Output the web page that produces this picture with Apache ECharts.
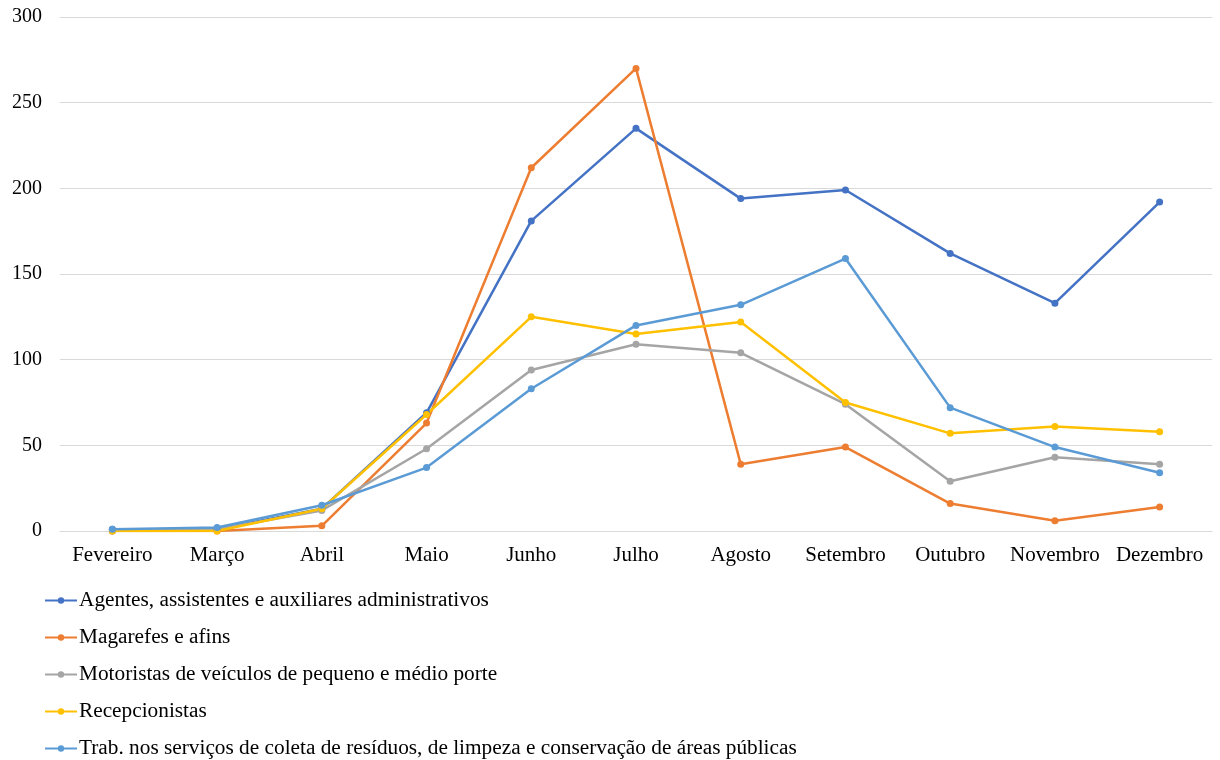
<!DOCTYPE html>
<html>
<head>
<meta charset="utf-8">
<script src="https://cdn.jsdelivr.net/npm/echarts@6/dist/echarts.min.js"></script>
<style>
  html, body { margin: 0; padding: 0; background: #fff; }
  #chart { width: 1220px; height: 760px; }
</style>
</head>
<body>
<div id="chart"></div>
<script>
var meses = ['Fevereiro', 'Março', 'Abril', 'Maio', 'Junho', 'Julho', 'Agosto', 'Setembro', 'Outubro', 'Novembro', 'Dezembro'];

var agentes = [1, 1, 13, 69, 181, 235, 194, 199, 162, 133, 192];
var magarefes = [0, 0, 3, 63, 212, 270, 39, 49, 16, 6, 14];
var motoristas = [0, 1, 12, 48, 94, 109, 104, 74, 29, 43, 39];
var recepcionistas = [0, 0, 13, 68, 125, 115, 122, 75, 57, 61, 58];
var trabColeta = [1, 2, 15, 37, 83, 120, 132, 159, 72, 49, 34];

var nomes = [
    'Agentes, assistentes e auxiliares administrativos',
    'Magarefes e afins',
    'Motoristas de veículos de pequeno e médio porte',
    'Recepcionistas',
    'Trab. nos serviços de coleta de resíduos, de limpeza e conservação de áreas públicas'
];
var cores = ['#4472C4', '#ED7D31', '#A5A5A5', '#FFC000', '#5B9BD5'];
var dados = [agentes, magarefes, motoristas, recepcionistas, trabColeta];

var fonte = '"Liberation Serif", "Times New Roman", serif';

var myChart = echarts.init(document.getElementById('chart'));

var series = dados.map(function (d, i) {
    return {
        name: nomes[i],
        type: 'line',
        data: d,
        symbol: 'circle',
        symbolSize: 7,
        color: cores[i],
        lineStyle: { width: 2.5, color: cores[i] },
        itemStyle: { color: cores[i] }
    };
});

var option = {
    animation: false,
    textStyle: { fontFamily: fonte },
    grid: { left: 60, right: 8, top: 17, bottom: 229, containLabel: false },
    legend: {
        orient: 'vertical',
        left: 39,
        top: 585,
        height: 200,
        itemWidth: 32,
        itemHeight: 8,
        itemGap: 16,
        data: nomes,
        textStyle: { fontFamily: fonte, fontSize: 21.3, color: '#000', padding: [0, 0, 0, -3] }
    },
    xAxis: {
        type: 'category',
        data: meses,
        boundaryGap: true,
        axisLine: { show: true, lineStyle: { color: '#d9d9d9', width: 1 } },
        axisTick: { show: false },
        axisLabel: { interval: 0, fontFamily: fonte, fontSize: 21, color: '#000', margin: 14 }
    },
    yAxis: {
        type: 'value',
        min: 0,
        max: 300,
        interval: 50,
        axisLine: { show: false },
        axisTick: { show: false },
        axisLabel: { fontFamily: fonte, fontSize: 20, color: '#000', margin: 18 },
        splitLine: { lineStyle: { color: '#d9d9d9', width: 1 } }
    },
    series: series
};

myChart.setOption(option);
</script>
</body>
</html>
